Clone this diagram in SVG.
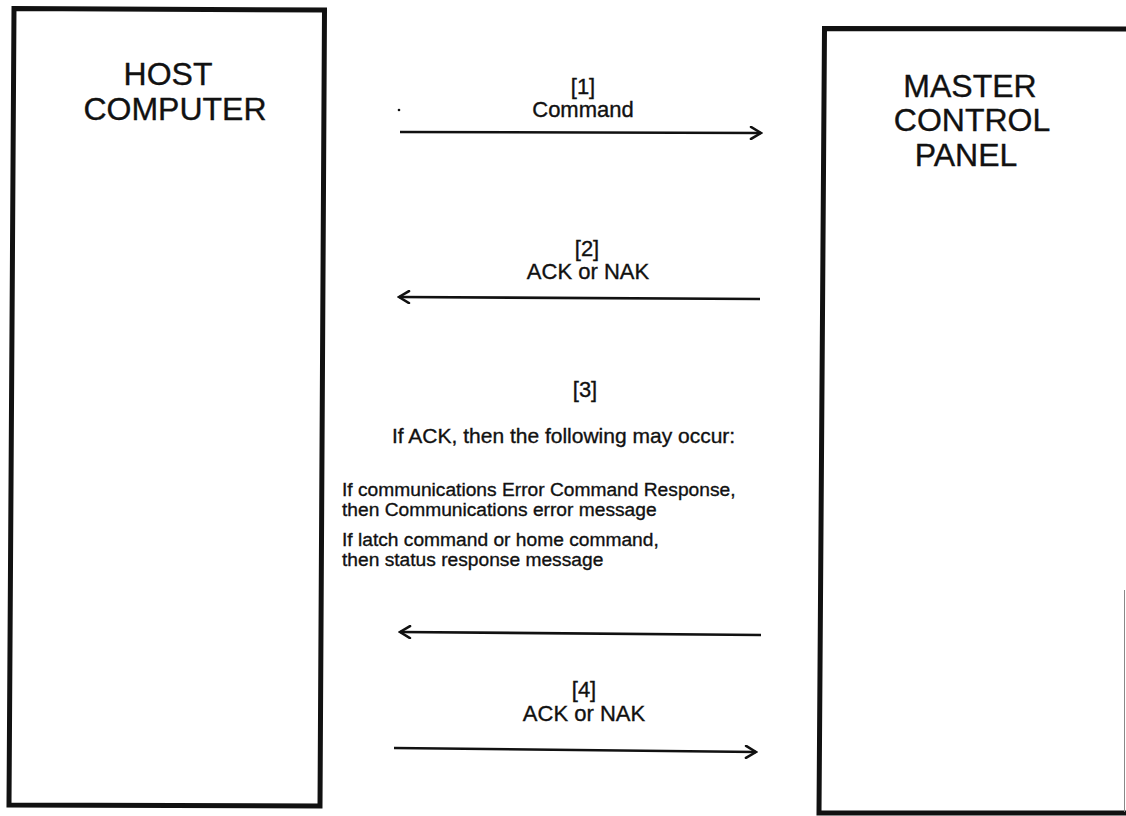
<svg xmlns="http://www.w3.org/2000/svg" width="1126" height="816" viewBox="0 0 1126 816">
<style>
  .box { fill: #ffffff; stroke: #111111; stroke-width: 5; stroke-linejoin: miter; }
  text { font-family: "Liberation Sans", Arial, sans-serif; fill: #111111; stroke: #111111; stroke-width: 0.35; }
  .title { font-size: 32px; text-anchor: middle; }
  .lbl { font-size: 22px; text-anchor: middle; }
  .note { font-size: 19.2px; }
  .big { font-size: 21px; }
  .conn { stroke: #111111; stroke-width: 2.6; fill: none; }
</style>
<defs>
  <marker id="arrow" viewBox="0 0 14 14" refX="12" refY="7" markerWidth="14" markerHeight="14" markerUnits="userSpaceOnUse" orient="auto">
    <path d="M 2 1 L 12 7 L 2 13" fill="none" stroke="#111111" stroke-width="2.6" stroke-linecap="round" stroke-linejoin="miter"/>
  </marker>
</defs>
<rect width="1126" height="816" fill="#ffffff"/>
<g id="host-computer">
  <path class="box" d="M 14 8.5 L 324.5 10 L 320 806 L 9 805 Z"/>
  <text class="title" x="168" y="85">HOST</text>
  <text class="title" x="175" y="120">COMPUTER</text>
</g>
<g id="master-control-panel">
  <path class="box" d="M 1135 29 L 824.5 28.5 L 819 813 L 1135 813"/>
  <line x1="1124.5" y1="590" x2="1124.5" y2="812" stroke="#888888" stroke-width="1"/>
  <text class="title" x="970" y="97">MASTER</text>
  <text class="title" x="972" y="131">CONTROL</text>
  <text class="title" x="966" y="166">PANEL</text>
</g>
<g id="connectors">
  <line class="conn" x1="400" y1="132" x2="761" y2="133" marker-end="url(#arrow)"/>
  <line class="conn" x1="760" y1="299" x2="399" y2="297" marker-end="url(#arrow)"/>
  <line class="conn" x1="761" y1="635" x2="400" y2="632" marker-end="url(#arrow)"/>
  <line class="conn" x1="394" y1="748" x2="756" y2="752" marker-end="url(#arrow)"/>
</g>
<g id="labels">
  <circle cx="399" cy="110" r="1.3" fill="#111111"/>
  <text class="lbl" x="583" y="94">[1]</text>
  <text class="lbl" x="583" y="117">Command</text>
  <text class="lbl" x="587" y="256">[2]</text>
  <text class="lbl" x="588" y="279">ACK or NAK</text>
  <text class="lbl" x="585" y="397">[3]</text>
  <text class="note big" x="392" y="443">If ACK, then the following may occur:</text>
  <text class="note" x="342" y="496">If communications Error Command Response,</text>
  <text class="note" x="342" y="516">then Communications error message</text>
  <text class="note" x="342" y="546">If latch command or home command,</text>
  <text class="note" x="342" y="566">then status response message</text>
  <text class="lbl" x="584" y="697">[4]</text>
  <text class="lbl" x="584" y="721">ACK or NAK</text>
</g>
</svg>
